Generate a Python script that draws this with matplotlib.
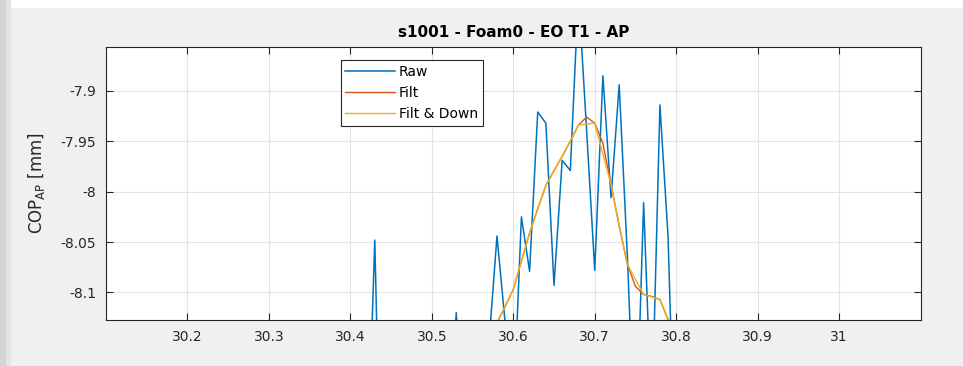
import numpy as np
import matplotlib.pyplot as plt
from matplotlib.patches import Rectangle

plt.rcParams['font.family'] = ['DejaVu Sans']
plt.rcParams['mathtext.fontset'] = 'dejavusans'

# COP AP signal [mm], raw at 100 Hz starting 30.41 s
raw_start = 30.41
raw_cop = [-8.33, -8.30, -8.048, -8.40, -8.36, -8.32, -8.34, -8.31, -8.30,
           -8.33, -8.29, -8.25, -8.120, -8.26, -8.22, -8.20, -8.152, -8.044,
           -8.13, -8.22, -8.025, -8.079, -7.921, -7.932, -8.093, -7.969,
           -7.979, -7.803, -7.939, -8.078, -7.885, -8.006, -7.894, -8.063,
           -8.27, -8.011, -8.23, -7.914, -8.045, -8.32, -8.30, -8.34]

# filtered signal, 100 Hz starting 30.56 s
filt_start = 30.56
filt_cop = [-8.17, -8.15, -8.13, -8.114, -8.097, -8.069, -8.041, -8.017,
            -7.994, -7.979, -7.965, -7.950, -7.934, -7.926, -7.932, -7.952,
            -7.993, -8.034, -8.072, -8.094, -8.102, -8.104, -8.107, -8.127,
            -8.145, -8.17]

# filtered and downsampled, 50 Hz starting 30.56 s
down_start = 30.56
down_cop = [-8.17, -8.13, -8.097, -8.041, -7.994, -7.965, -7.934, -7.932,
            -7.993, -8.072, -8.102, -8.107, -8.145]

x_ticks = [30.2, 30.3, 30.4, 30.5, 30.6, 30.7, 30.8, 30.9, 31.0]
x_labels = ['30.2', '30.3', '30.4', '30.5', '30.6', '30.7', '30.8', '30.9', '31']
y_ticks = [-8.1, -8.05, -8.0, -7.95, -7.9]
y_labels = ['-8.1', '-8.05', '-8', '-7.95', '-7.9']

t_raw = raw_start + 0.01 * np.arange(len(raw_cop))
t_filt = filt_start + 0.01 * np.arange(len(filt_cop))
t_down = down_start + 0.02 * np.arange(len(down_cop))

fig = plt.figure(figsize=(9.63, 3.66), dpi=100, facecolor='#f0f0f0')
# screenshot edges: white strip on top, shadow on the left
fig.patches.append(Rectangle((0, 0.978), 1, 0.022, transform=fig.transFigure,
                             facecolor='white', edgecolor='none', zorder=-5))
fig.patches.append(Rectangle((0, 0), 0.006, 1, transform=fig.transFigure,
                             facecolor='#d4d4d4', edgecolor='none', zorder=-4))
fig.patches.append(Rectangle((0.006, 0), 0.005, 1, transform=fig.transFigure,
                             facecolor='#e4e4e4', edgecolor='none', zorder=-4))

ax = fig.add_axes([0.110, 0.1257, 0.846, 0.7467])
ax.plot(t_raw, raw_cop, color='#0072BD', lw=1.1, label='Raw')
ax.plot(t_filt, filt_cop, color='#D95319', lw=1.0, label='Filt')
ax.plot(t_down, down_cop, color='#EDB120', lw=1.0, label='Filt & Down')

ax.set_xlim(30.1, 31.1)
ax.set_ylim(-8.1273, -7.8562)
ax.set_xticks(x_ticks)
ax.set_xticklabels(x_labels)
ax.set_yticks(y_ticks)
ax.set_yticklabels(y_labels)
ax.tick_params(direction='in', length=5, width=0.8, colors='#262626',
               labelsize=10, top=True, right=True, pad=7)
ax.grid(True, color='#e3e3e3', lw=0.8)
ax.set_axisbelow(True)
for s in ax.spines.values():
    s.set_color('#262626')
    s.set_linewidth(0.8)

ax.set_title('s1001 - Foam0 - EO T1 - AP', fontsize=11, fontweight='bold',
             color='black', pad=7)
ax.set_ylabel(r'COP$_\mathregular{AP}$ [mm]', fontsize=12, color='#262626',
              labelpad=10)

leg = ax.legend(loc='upper left', bbox_to_anchor=(0.288, 0.952), fontsize=10,
                frameon=True, fancybox=False, framealpha=1, edgecolor='#262626',
                handlelength=3.6, handletextpad=0.25, borderpad=0.35,
                labelspacing=0.52, borderaxespad=0)
leg.get_frame().set_linewidth(0.8)

fig.savefig('out.png', dpi=100, facecolor=fig.get_facecolor())
